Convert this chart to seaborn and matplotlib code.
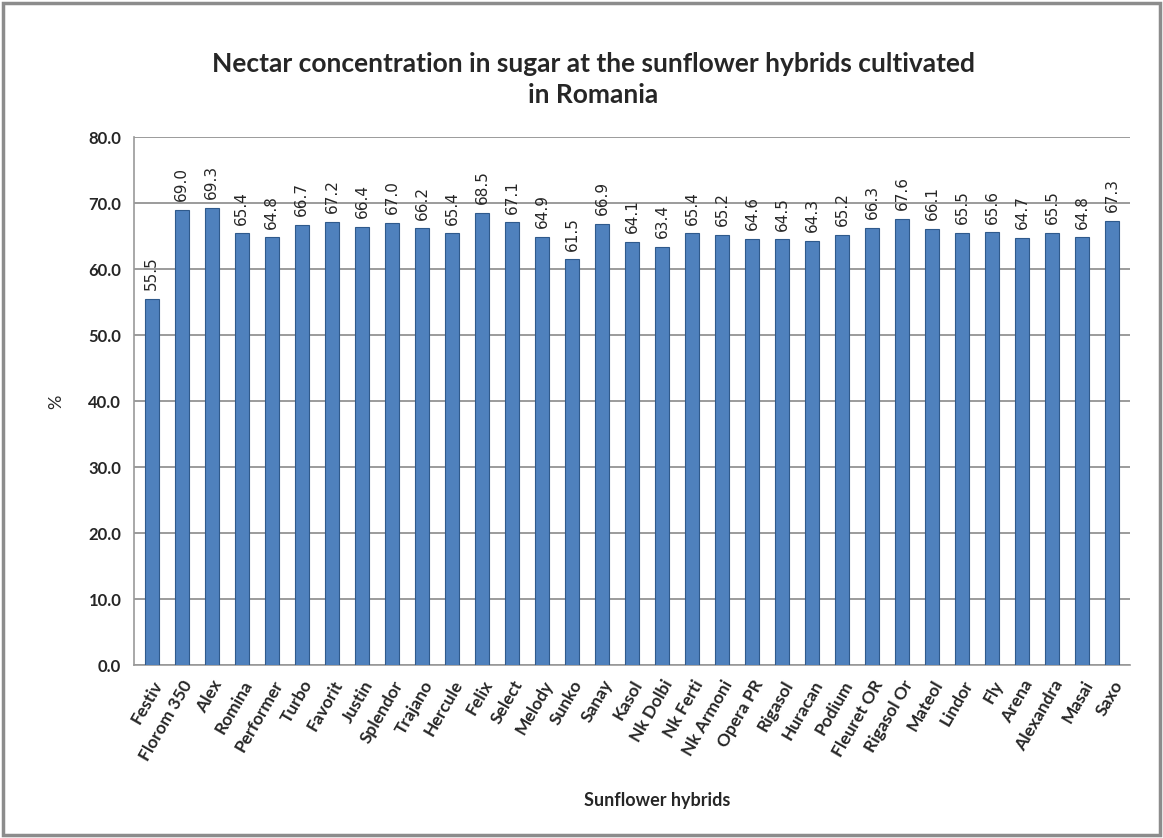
import matplotlib
matplotlib.use("Agg")
import matplotlib.pyplot as plt
import seaborn as sns
import pandas as pd
from matplotlib.patches import Rectangle

hybrids = ["Festiv", "Florom 350", "Alex", "Romina", "Performer", "Turbo", "Favorit",
           "Justin", "Splendor", "Trajano", "Hercule", "Felix", "Select", "Melody",
           "Sunko", "Sanay", "Kasol", "Nk Dolbi", "Nk Ferti", "Nk Armoni", "Opera PR",
           "Rigasol", "Huracan", "Podium", "Fleuret OR", "Rigasol Or", "Mateol",
           "Lindor", "Fly", "Arena", "Alexandra", "Masai", "Saxo"]
values = [55.5, 69.0, 69.3, 65.4, 64.8, 66.7, 67.2, 66.4, 67.0, 66.2, 65.4, 68.5,
          67.1, 64.9, 61.5, 66.9, 64.1, 63.4, 65.4, 65.2, 64.6, 64.5, 64.3, 65.2,
          66.3, 67.6, 66.1, 65.5, 65.6, 64.7, 65.5, 64.8, 67.3]
yticks = [0, 10, 20, 30, 40, 50, 60, 70, 80]

df = pd.DataFrame({"hybrid": hybrids, "value": values})

sns.set_style("white")
plt.rcParams['font.family'] = ['Lato', 'DejaVu Sans']

fig = plt.figure(figsize=(11.63, 8.38), dpi=100)
fig.patches.append(Rectangle((0.003, 0.003), 0.994, 0.994, transform=fig.transFigure,
                             fill=False, edgecolor="#8c8c8c", linewidth=2.5))
ax = fig.add_axes([0.115, 0.2064, 0.857, 0.630])

sns.barplot(data=df, x="hybrid", y="value", color="#4F81BD", width=0.47,
            edgecolor="#2f5a8c", linewidth=0.8, saturation=1, ax=ax, zorder=3)

for i, v in enumerate(values):
    ax.text(i, v + 1.3, f"{v:.1f}", rotation=90, ha="center", va="bottom",
            fontsize=11, family="DejaVu Sans", zorder=4)

ax.set_ylim(0, 80)
ax.set_xlim(-0.6, len(hybrids) - 0.4)
ax.set_yticks(yticks)
ax.set_yticklabels([f"{t:.1f}" for t in yticks], fontsize=12, fontweight="bold")
ax.set_xticks(range(len(hybrids)))
ax.set_xticklabels(hybrids, rotation=60, ha="right", rotation_mode="anchor",
                   fontsize=12.5, fontweight="bold")
ax.tick_params(axis="x", length=5, color="#888888", pad=4)
ax.tick_params(axis="y", length=5, color="#888888", pad=4)
ax.yaxis.grid(True, color="#8a8a8a", linewidth=1.2, zorder=0)
ax.set_axisbelow(True)
for s in ["top", "right"]:
    ax.spines[s].set_visible(False)
for s in ["left", "bottom"]:
    ax.spines[s].set_color("#999999")
    ax.spines[s].set_linewidth(1.2)

ax.set_ylabel("")
ax.set_xlabel("")
fig.text(0.048, 0.52, "%", rotation=90, ha="center", va="center", fontsize=13)
fig.text(0.565, 0.045, "Sunflower hybrids", ha="center", va="center",
         fontsize=13, fontweight="bold")

fig.text(0.51, 0.905, "Nectar concentration in sugar at the sunflower hybrids cultivated\nin Romania",
         ha="center", va="center", fontsize=19, fontweight="bold", linespacing=1.35)

fig.savefig("out.png", dpi=100)
